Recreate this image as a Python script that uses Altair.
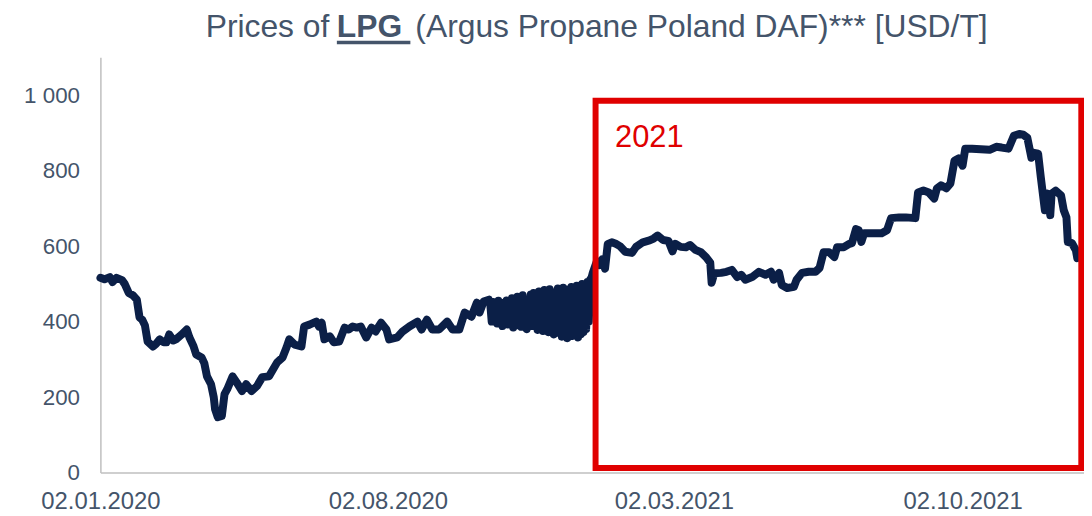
import altair as alt
import pandas as pd

# ---- data (day offset from 02.01.2020, price USD/T) ----
DAYS_2020 = [0, 3, 7, 9, 12, 16, 18, 21, 24, 27, 29, 31, 33, 35, 39, 41, 44, 47, 49, 51,
             54, 56, 60, 64, 66, 69, 71, 75, 77, 79, 82, 84, 85, 87, 90, 92, 94, 98, 101, 105,
             108, 112, 116, 120, 125, 131, 135, 138, 140, 144, 149, 151, 155, 160, 162, 164, 166, 170, 173, 177,
             181, 184, 187, 190, 193, 197, 201, 204, 208, 212, 214, 220, 224, 229, 235, 238, 242, 246, 251, 257,
             261, 266, 270, 275, 279, 281, 284, 288]
PRICES_2020 = [516, 512, 518, 505, 516, 510, 500, 476, 470, 458, 411, 405, 390, 347, 334, 340, 353, 345, 345, 366,
               350, 353, 365, 379, 358, 335, 313, 305, 290, 255, 234, 200, 168, 147, 150, 208, 221, 255, 239, 216,
               234, 216, 229, 253, 255, 292, 305, 332, 353, 339, 334, 387, 392, 400, 387, 397, 353, 361, 345, 347,
               384, 379, 387, 384, 387, 358, 384, 374, 397, 379, 353, 358, 374, 387, 400, 379, 405, 379, 379, 400,
               379, 379, 424, 413, 450, 424, 453, 458]

DAYS_Q4 = [289, 290, 291, 292, 293, 294, 295, 296, 297, 298, 299, 300,
           301, 302, 303, 304, 305, 306, 307, 308, 309, 310, 311, 312,
           313, 314, 315, 316, 317, 318, 319, 320, 321, 322, 323, 324,
           325, 326, 327, 328, 329, 330, 331, 332, 333, 334, 335, 336,
           337, 338, 339, 340, 341, 342, 343, 344, 345, 346, 347, 348,
           349, 350, 351, 352, 353, 354, 355, 356, 357, 358, 359, 360, 361, 362, 363]
PRICES_Q4 = [445, 400, 452, 420, 438, 395, 455, 402, 440, 388, 450, 415,
             456, 392, 430, 398, 462, 384, 450, 410, 466, 390, 442, 386,
             470, 396, 458, 380, 448, 402, 472, 388, 476, 392, 455, 378,
             480, 386, 462, 375, 484, 395, 470, 372, 486, 380, 460, 366,
             478, 370, 488, 392, 472, 360, 490, 368, 465, 356, 485, 372,
             492, 362, 478, 384, 495, 358, 488, 366, 500, 372, 485, 380, 505, 400, 512]

DAYS_2021 = [364, 365, 368, 370, 372, 374, 376, 379, 382, 385, 389, 394, 397, 402, 407, 410, 413, 417, 421, 424,
             426, 430, 434, 437, 441, 445, 449, 452, 453, 455, 460, 464, 468, 472, 475, 478, 483, 488, 493, 497,
             499, 503, 505, 509, 514, 516, 520, 525, 530, 533, 536, 540, 544, 546, 551, 555, 557, 560, 562, 564,
             566, 572, 579, 583, 586, 592, 597, 604, 606, 610, 614, 618, 620, 623, 627, 630, 633, 636, 639, 641,
             646, 659, 664, 668, 673, 677, 681, 684, 687, 690, 692, 695, 697, 700, 702, 704, 705, 708, 712, 714,
             716, 717, 720, 723, 724]
PRICES_2021 = [516, 530, 560, 550, 565, 540, 605, 610, 606, 600, 585, 582, 598, 610, 615, 620, 628, 616, 614, 586,
               606, 598, 597, 603, 590, 584, 570, 556, 503, 528, 529, 532, 537, 518, 524, 511, 518, 532, 524, 532,
               511, 529, 497, 489, 492, 511, 529, 532, 532, 542, 584, 584, 571, 597, 597, 606, 608, 645, 642, 611,
               634, 634, 634, 642, 674, 676, 676, 674, 742, 747, 742, 726, 753, 761, 753, 766, 826, 832, 813, 858,
               858, 855, 863, 861, 858, 892, 897, 895, 887, 834, 847, 845, 782, 695, 739, 682, 739, 747, 734, 695,
               676, 611, 608, 589, 568]

START_DATE = "2020-01-02"
X_TICKS = [(2020, 1, 2), (2020, 8, 2), (2021, 3, 2), (2021, 10, 2)]
X_END = (2021, 12, 31)
Y_TICKS = [0, 200, 400, 600, 800, 1000]
Y_MAX = 1100

# highlighted 2021 window
BOX_START = "2021-01-03"
BOX_END = "2021-12-29"
BOX_LOW = 12
BOX_HIGH = 985
BOX_LABEL = "2021"

TITLE_PARTS = ["Prices of", "LPG", "(Argus Propane Poland DAF)*** [USD/T]"]

# ---- build table ----
days = DAYS_2020 + DAYS_Q4 + DAYS_2021
prices = PRICES_2020 + PRICES_Q4 + PRICES_2021
dates = pd.Timestamp(START_DATE) + pd.to_timedelta(days, unit="D")
df = pd.DataFrame({"date": dates.strftime("%Y-%m-%d"), "price": prices})

TEXT_COLOR = "#44546A"
LINE_COLOR = "#0B1F47"
RED = "#E00000"
FONT = "Liberation Sans"


def dt(t):
    return alt.DateTime(year=t[0], month=t[1], date=t[2], utc=True)


x_scale = alt.Scale(type="utc", domain=[dt(X_TICKS[0]), dt(X_END)], nice=False)

x_enc = alt.X(
    "date:T",
    scale=x_scale,
    axis=alt.Axis(
        values=[dt(t) for t in X_TICKS],
        labelExpr="utcFormat(datum.value, '%d.%m.%Y')",
        title=None, grid=False, ticks=False, tickSize=0, labelPadding=17,
        labelFont=FONT, labelFontSize=24, labelColor=TEXT_COLOR,
        domainColor="#BFBFBF", domainWidth=1.5, labelFlush=False, labelOverlap=False,
    ),
)
y_enc = alt.Y(
    "price:Q",
    scale=alt.Scale(domain=[0, Y_MAX], nice=False),
    axis=alt.Axis(
        values=Y_TICKS, labelExpr="replace(format(datum.value, ','), ',', ' ')",
        title=None, grid=False, ticks=False, tickSize=0, labelPadding=21,
        labelFont=FONT, labelFontSize=22.5, labelColor=TEXT_COLOR,
        domainColor="#BFBFBF", domainWidth=1.5,
    ),
)

line = alt.Chart(df).mark_line(
    color=LINE_COLOR, strokeWidth=8, strokeJoin="round", strokeCap="round"
).encode(x=x_enc, y=y_enc)

box_df = pd.DataFrame({"x": [BOX_START], "x2": [BOX_END], "y": [BOX_LOW], "y2": [BOX_HIGH]})
box = alt.Chart(box_df).mark_rect(
    fill=None, fillOpacity=0, stroke=RED, strokeWidth=6
).encode(
    x=alt.X("x:T", scale=x_scale), x2="x2:T",
    y=alt.Y("y:Q"), y2="y2:Q",
)

box_label = alt.Chart(pd.DataFrame({"t": [BOX_LABEL]})).mark_text(
    align="left", baseline="alphabetic", font=FONT, fontSize=31, color=RED
).encode(text="t:N", x=alt.value(518), y=alt.value(90))

t1 = alt.Chart(pd.DataFrame({"t": [TITLE_PARTS[0]]})).mark_text(
    align="left", baseline="alphabetic", font=FONT, fontSize=32, color=TEXT_COLOR
).encode(text="t:N", x=alt.value(106), y=alt.value(-20))
t2 = alt.Chart(pd.DataFrame({"t": [TITLE_PARTS[1]]})).mark_text(
    align="left", baseline="alphabetic", font=FONT, fontSize=32,
    fontWeight="bold", color=TEXT_COLOR
).encode(text="t:N", x=alt.value(238), y=alt.value(-20))
t3 = alt.Chart(pd.DataFrame({"t": [TITLE_PARTS[2]]})).mark_text(
    align="left", baseline="alphabetic", font=FONT, fontSize=32, color=TEXT_COLOR
).encode(text="t:N", x=alt.value(317), y=alt.value(-20))
underline = alt.Chart(pd.DataFrame({"t": [TITLE_PARTS[1]]})).mark_rule(
    color=TEXT_COLOR, strokeWidth=3.5
).encode(x=alt.value(238), x2=alt.value(312), y=alt.value(-15))

chart = alt.layer(line, box, box_label, t1, t2, t3, underline).properties(
    width=990, height=418,
    autosize=alt.AutoSizeParams(type="none"),
    padding={"left": 93, "top": 48, "right": 0, "bottom": 40},
).configure(background="white", view=alt.ViewConfig(strokeWidth=0))

chart.save("out.html", embed_options={"renderer": "svg", "actions": False})
